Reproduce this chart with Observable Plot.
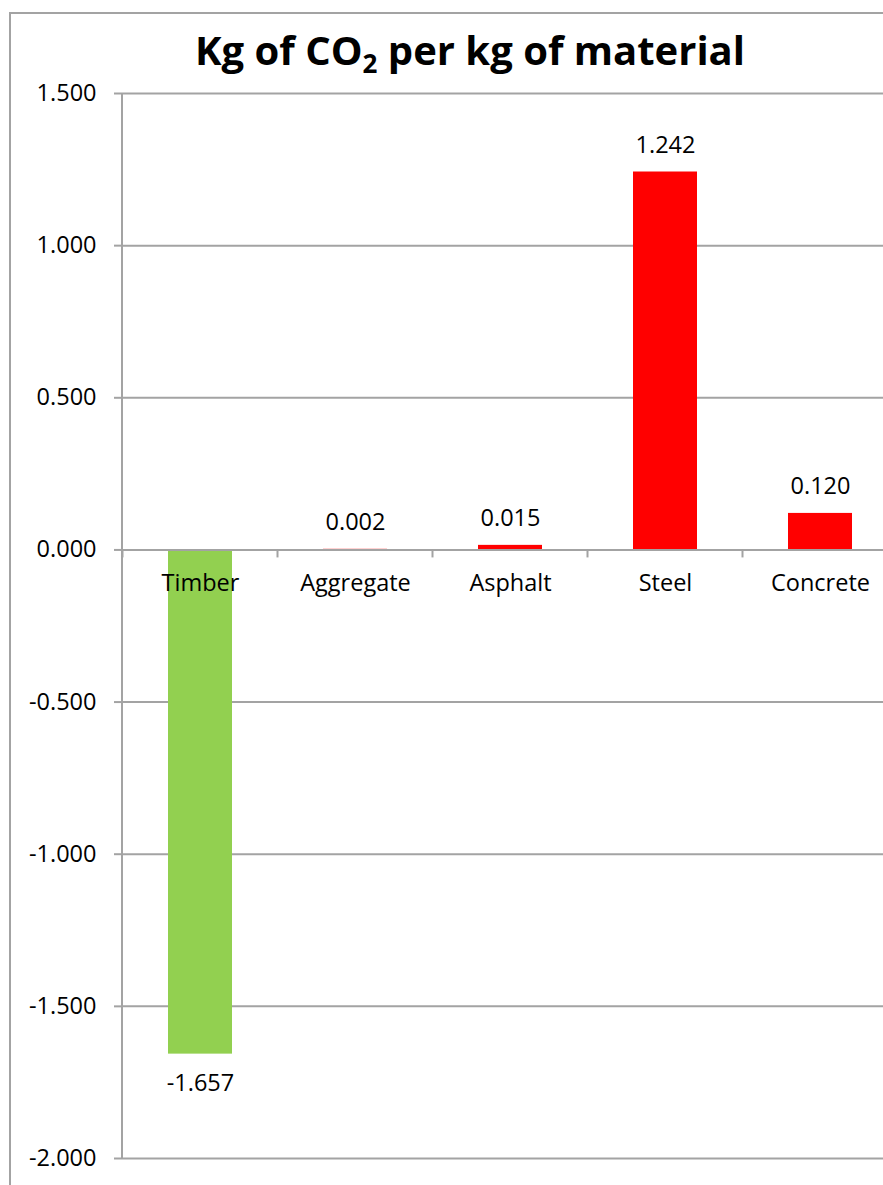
<!DOCTYPE html>
<html>
<head>
<meta charset="utf-8">
<script src="https://cdn.jsdelivr.net/npm/d3@7"></script>
<script src="https://cdn.jsdelivr.net/npm/@observablehq/plot@0.6"></script>
<style>
  html, body { margin: 0; padding: 0; overflow: hidden; background: #fff; }
  #wrap { position: relative; width: 883px; height: 1185px; overflow: hidden; font-family: "Open Sans", sans-serif; }
  #border { position: absolute; left: 9px; top: 12px; width: 950px; height: 1250px; border: 2px solid #a3a3a3; box-sizing: border-box; }
  #title { position: absolute; left: 0; top: 26px; width: 940px; text-align: center; font-weight: bold; font-size: 40px; line-height: 48px; color: #000; }
  #title sub { font-size: 0.65em; vertical-align: -0.3em; line-height: 0; }
  #chart { position: absolute; left: 0; top: 0; width: 900px; }
  #chart svg { max-width: none !important; }
</style>
</head>
<body>
<div id="wrap">
  <div id="border"></div>
  <div id="chart"></div>
  <div id="title">Kg of CO<sub>2</sub> per kg of material</div>
</div>
<script>
const categories = ["Timber", "Aggregate", "Asphalt", "Steel", "Concrete"];
const values = [-1.657, 0.002, 0.015, 1.242, 0.120];
const barColors = ["#92D050", "#FF0000", "#FF0000", "#FF0000", "#FF0000"];
const yTicks = [-2.0, -1.5, -1.0, -0.5, 0.0, 0.5, 1.0, 1.5];

const data = categories.map((c, i) => ({material: c, value: values[i], color: barColors[i]}));
const fmt = d3.formatLocale({decimal: ".", thousands: ",", grouping: [3], currency: ["", ""], minus: "-"}).format(".3f");
const gray = "#a3a3a3";
const fs = 23.5;

function axisDecor(index, scales, vals, dims) {
  const g = d3.create("svg:g");
  const x = scales.x, y = scales.y;
  const step = x.step(), bw = x.bandwidth();
  g.append("line")
    .attr("x1", dims.marginLeft).attr("x2", dims.marginLeft)
    .attr("y1", dims.marginTop).attr("y2", dims.height - dims.marginBottom)
    .attr("stroke", gray).attr("stroke-width", 2);
  const y0 = y(0);
  categories.forEach(c => {
    const bx = x(c) + bw / 2 - step / 2;
    g.append("line")
      .attr("x1", bx).attr("x2", bx)
      .attr("y1", y0).attr("y2", y0 + 8)
      .attr("stroke", gray).attr("stroke-width", 2);
  });
  return g.node();
}

const chart = Plot.plot({
  width: 900,
  height: 1185,
  marginLeft: 122,
  marginRight: 2,
  marginTop: 93,
  marginBottom: 27,
  style: {fontFamily: "Open Sans, sans-serif", fontSize: fs + "px", color: "#000", background: "transparent", maxWidth: "none"},
  x: {domain: categories, paddingInner: 0.59, paddingOuter: 0.295, axis: null},
  y: {domain: [-2, 1.5], axis: null},
  marks: [
    Plot.gridY(yTicks, {stroke: gray, strokeOpacity: 1, strokeWidth: 2}),
    Plot.axisY(yTicks, {tickFormat: fmt, tickSize: 8, tickPadding: 18, stroke: gray, strokeWidth: 2, fontSize: fs, fill: "#000", label: null}),
    Plot.barY(data, {x: "material", y: "value", fill: "color"}),
    Plot.ruleY([0], {stroke: gray, strokeWidth: 2}),
    axisDecor,
    Plot.text(data.filter(d => d.value >= 0), {x: "material", y: "value", text: d => fmt(d.value), dy: -27, fontSize: fs, fill: "#000"}),
    Plot.text(data.filter(d => d.value < 0), {x: "material", y: "value", text: d => fmt(d.value), dy: 29, fontSize: fs, fill: "#000"}),
    Plot.text(categories, {x: d => d, y: d => 0, text: d => d, dy: 34, fontSize: fs, fill: "#000"})
  ]
});
document.getElementById("chart").appendChild(chart);
</script>
</body>
</html>
